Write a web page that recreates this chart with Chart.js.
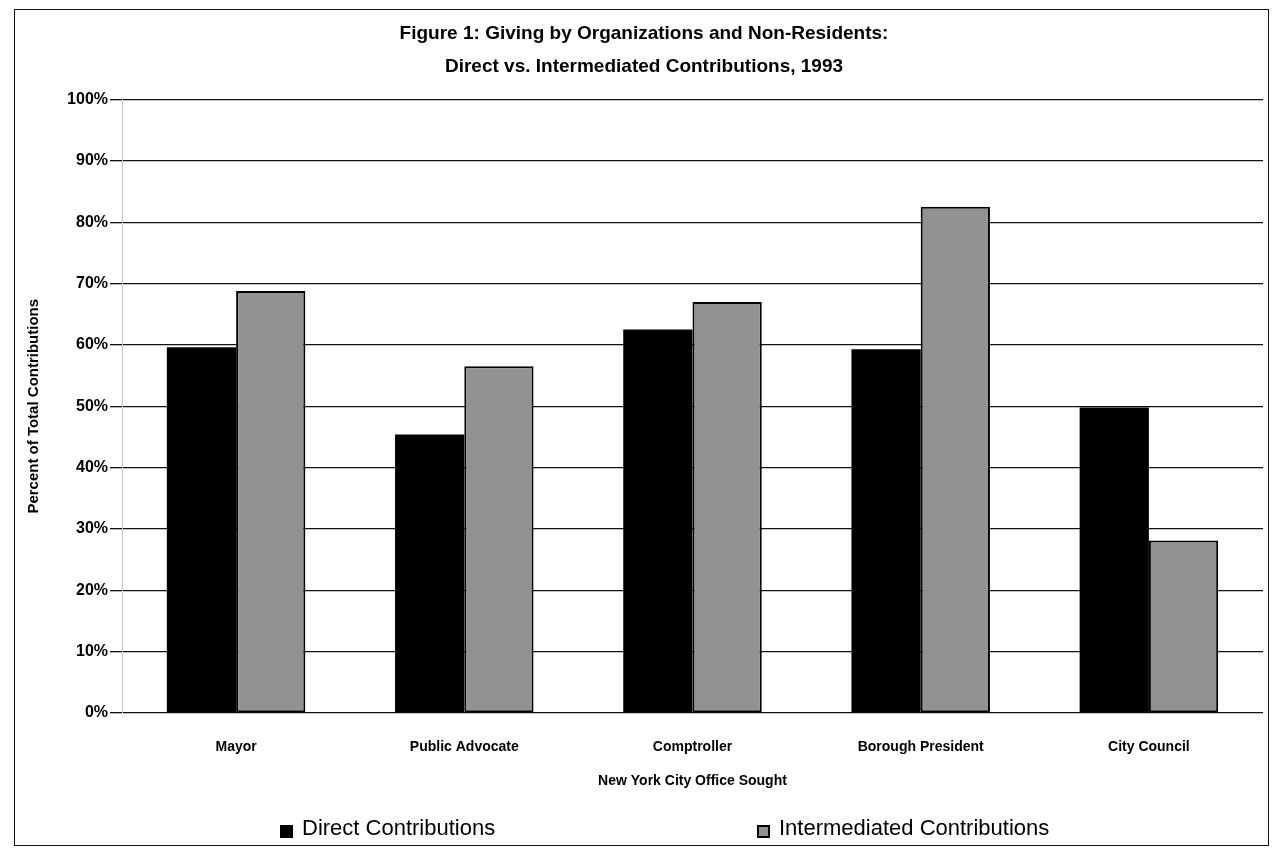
<!DOCTYPE html>
<html>
<head>
<meta charset="utf-8">
<script src="https://cdn.jsdelivr.net/npm/chart.js"></script>
<style>
    body { margin: 0; background: #ffffff; }
    #cadre { position: relative; width: 1275px; height: 850px; }
    #bordure {
        position: absolute; left: 14px; top: 9px; width: 1253px; height: 835px;
        border: 1.5px solid #111; pointer-events: none;
    }
    .legende {
        position: absolute; top: 815px; display: flex; align-items: center;
        font-family: "Liberation Sans", Arial, sans-serif; font-size: 22px; color: #000;
    }
    .carre { width: 13px; height: 13px; margin-right: 9px; margin-top: 6px; box-sizing: border-box; }
</style>
</head>
<body>
<div id="cadre">
    <canvas id="graphique" width="1275" height="850"></canvas>
    <div id="bordure"></div>
    <div class="legende" style="left:280px"><div class="carre" style="background:#000"></div>Direct Contributions</div>
    <div class="legende" style="left:757px"><div class="carre" style="background:#929292;border:2px solid #000"></div>Intermediated Contributions</div>
</div>
<script>
//---------------------------DONNEES---------------------------------

const bureaux = ['Mayor', 'Public Advocate', 'Comptroller', 'Borough President', 'City Council'];
const direct = [59.6, 45.4, 62.5, 59.3, 49.8];
const intermediaire = [68.8, 56.5, 67.0, 82.5, 28.1];
const graduations = [0, 10, 20, 30, 40, 50, 60, 70, 80, 90, 100];

//---------------------------GRAPHIQUE---------------------------------

const police = '"Liberation Sans", Arial, sans-serif';

const ctx = document.getElementById('graphique').getContext('2d');

new Chart(ctx, {
    type: 'bar',
    data: {
        labels: bureaux,
        datasets: [{
            label: 'Direct Contributions',
            data: direct,
            backgroundColor: '#000000',
            borderWidth: 0
        }, {
            label: 'Intermediated Contributions',
            data: intermediaire,
            backgroundColor: '#929292',
            borderColor: '#000000',
            borderWidth: 2,
            borderSkipped: false
        }]
    },
    options: {
        responsive: false,
        animation: false,
        layout: {
            padding: { top: 17, left: 25, right: 12, bottom: 52 }
        },
        datasets: {
            bar: { categoryPercentage: 0.607, barPercentage: 1 }
        },
        scales: {
            x: {
                grid: { display: false },
                border: { display: false },
                afterFit: function (scale) { scale.height = 85; },
                ticks: {
                    color: '#000',
                    padding: 18,
                    font: { family: police, size: 14, weight: 'bold' }
                },
                title: {
                    display: true,
                    text: 'New York City Office Sought',
                    color: '#000',
                    padding: { top: 0, bottom: 8 },
                    font: { family: police, size: 14, weight: 'bold' }
                }
            },
            y: {
                min: 0,
                max: 100,
                afterFit: function (scale) { scale.width = 97; },
                afterBuildTicks: function (scale) {
                    scale.ticks = graduations.map(v => ({ value: v }));
                },
                grid: {
                    color: '#111',
                    lineWidth: 1.3,
                    tickLength: 12
                },
                border: { display: true, color: '#c4c4c4', width: 1 },
                ticks: {
                    color: '#000',
                    padding: 2,
                    font: { family: police, size: 16, weight: 'bold' },
                    callback: function (v) { return v + '%'; }
                },
                title: {
                    display: true,
                    text: 'Percent of Total Contributions',
                    color: '#000',
                    padding: { top: 0, bottom: 8 },
                    font: { family: police, size: 15, weight: 'bold' }
                }
            }
        },
        plugins: {
            legend: { display: false },
            tooltip: { enabled: false },
            title: {
                display: true,
                text: ['Figure 1: Giving by Organizations and Non-Residents:', 'Direct vs. Intermediated Contributions, 1993'],
                color: '#000',
                padding: { top: 0, bottom: 16 },
                font: { family: police, size: 19, weight: 'bold', lineHeight: 1.75 }
            }
        }
    }
});
</script>
</body>
</html>
